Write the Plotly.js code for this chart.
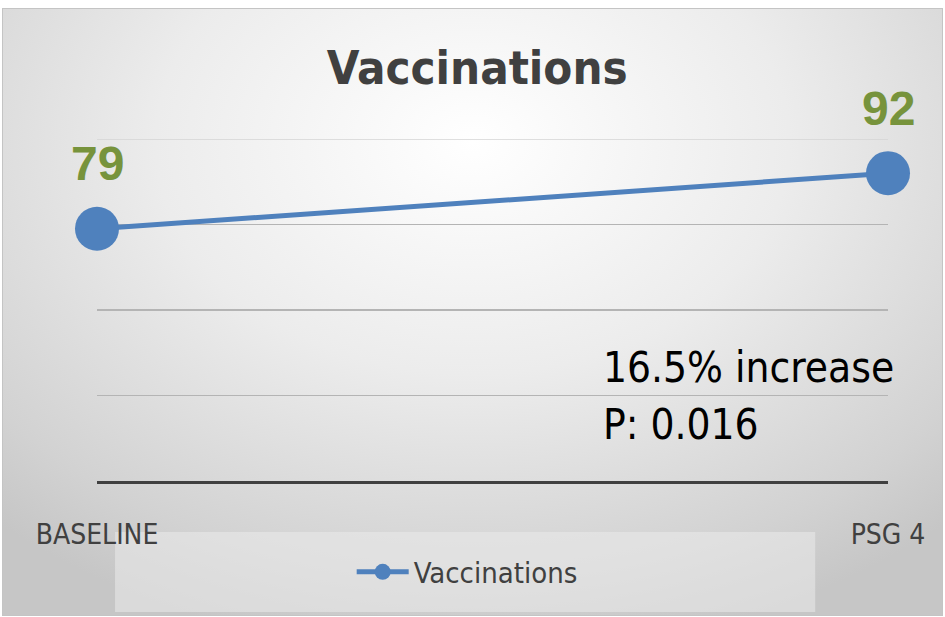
<!DOCTYPE html>
<html>
<head>
<meta charset="utf-8">
<script src="https://cdn.plot.ly/plotly-3.0.1.min.js"></script>
<style>
html,body{margin:0;padding:0;background:#ffffff;}
#wrap{position:absolute;left:0;top:0;width:945px;height:617px;}
#bg{position:absolute;left:2px;top:8px;width:939px;height:606px;border:1px solid #c4c4c4;
 background:radial-gradient(ellipse 75% 85% at 50% 22%, #ffffff 0%, #ececec 45%, #d2d2d2 85%, #c6c6c6 100%);}
#chart{position:absolute;left:0;top:0;width:945px;height:617px;}
</style>
</head>
<body>
<div id="wrap"><div id="bg"></div><div id="chart"></div></div>
<script>
const categories = ["BASELINE", "PSG 4"];
const values = [79, 92];
const seriesName = "Vaccinations";
const chartTitle = "Vaccinations";
const noteLines = ["16.5% increase", "P: 0.016"];
const yTicks = [20, 40, 60, 80, 100];

const narrow = '"Liberation Sans Narrow", "DejaVu Sans Condensed", "Liberation Sans", sans-serif';
const labelGreen = '#77933c';
const blue = '#4f81bd';
const gridColor = '#b4b4b4';

const trace = {
  type: 'scatter', mode: 'lines+markers',
  x: categories, y: values, name: seriesName,
  line: {color: blue, width: 5},
  marker: {color: blue, size: 44},
  cliponaxis: false,
  hoverinfo: 'skip'
};

const annotations = values.map((v, i) => ({
  x: categories[i], y: v, xref: 'x', yref: 'y',
  text: String(v), showarrow: false, yshift: 65, yanchor: 'middle',
  font: {family: '"Liberation Sans", Arial, sans-serif', size: 48, color: labelGreen, weight: 'bold'}
}));
noteLines.forEach((t, i) => {
  annotations.push({
    xref: 'paper', yref: 'paper', x: 0.637, y: i === 0 ? 0.333 : 0.164,
    xanchor: 'left', yanchor: 'middle', showarrow: false, text: t,
    font: {family: narrow, size: 42, color: '#000000'}
  });
});

const yMax = yTicks[yTicks.length - 1];

const layout = {
  width: 945, height: 617,
  paper_bgcolor: 'rgba(0,0,0,0)', plot_bgcolor: 'rgba(0,0,0,0)',
  margin: {l: 97, r: 57, t: 139, b: 136},
  title: {text: '<b>' + chartTitle + '</b>', x: 0.505, xanchor: 'center', y: 0.89, yanchor: 'middle',
    font: {family: narrow, size: 47, color: '#404040'}},
  xaxis: {type: 'category', range: [0, 1], showgrid: false, zeroline: false,
    showline: true, linecolor: '#404040', linewidth: 3, ticks: '', ticklabelstandoff: 26,
    tickfont: {family: narrow, size: 28, color: '#404040'}, fixedrange: true},
  yaxis: {range: [yTicks[0], yMax], tickvals: yTicks, showticklabels: false, showgrid: true,
    gridcolor: gridColor, gridwidth: 1.5, zeroline: false, showline: false, fixedrange: true},
  showlegend: true,
  legend: {orientation: 'h', x: 0.468, xanchor: 'center', y: -0.266, yanchor: 'middle',
    bgcolor: 'rgba(0,0,0,0)', font: {family: narrow, size: 29, color: '#404040'}, itemwidth: 52},
  shapes: [
    {type: 'rect', xref: 'paper', yref: 'paper', x0: 0.0228, x1: 0.908, y0: -0.383, y1: -0.149,
      fillcolor: 'rgba(235,235,235,0.55)', line: {width: 0}, layer: 'below'},
    {type: 'line', xref: 'paper', yref: 'y', x0: 0, x1: 1, y0: yMax, y1: yMax,
      line: {color: '#d4d4d4', width: 1.5}, layer: 'below'}
  ],
  annotations: annotations
};

Plotly.newPlot('chart', [trace], layout, {displayModeBar: false, staticPlot: true});
</script>
</body>
</html>
